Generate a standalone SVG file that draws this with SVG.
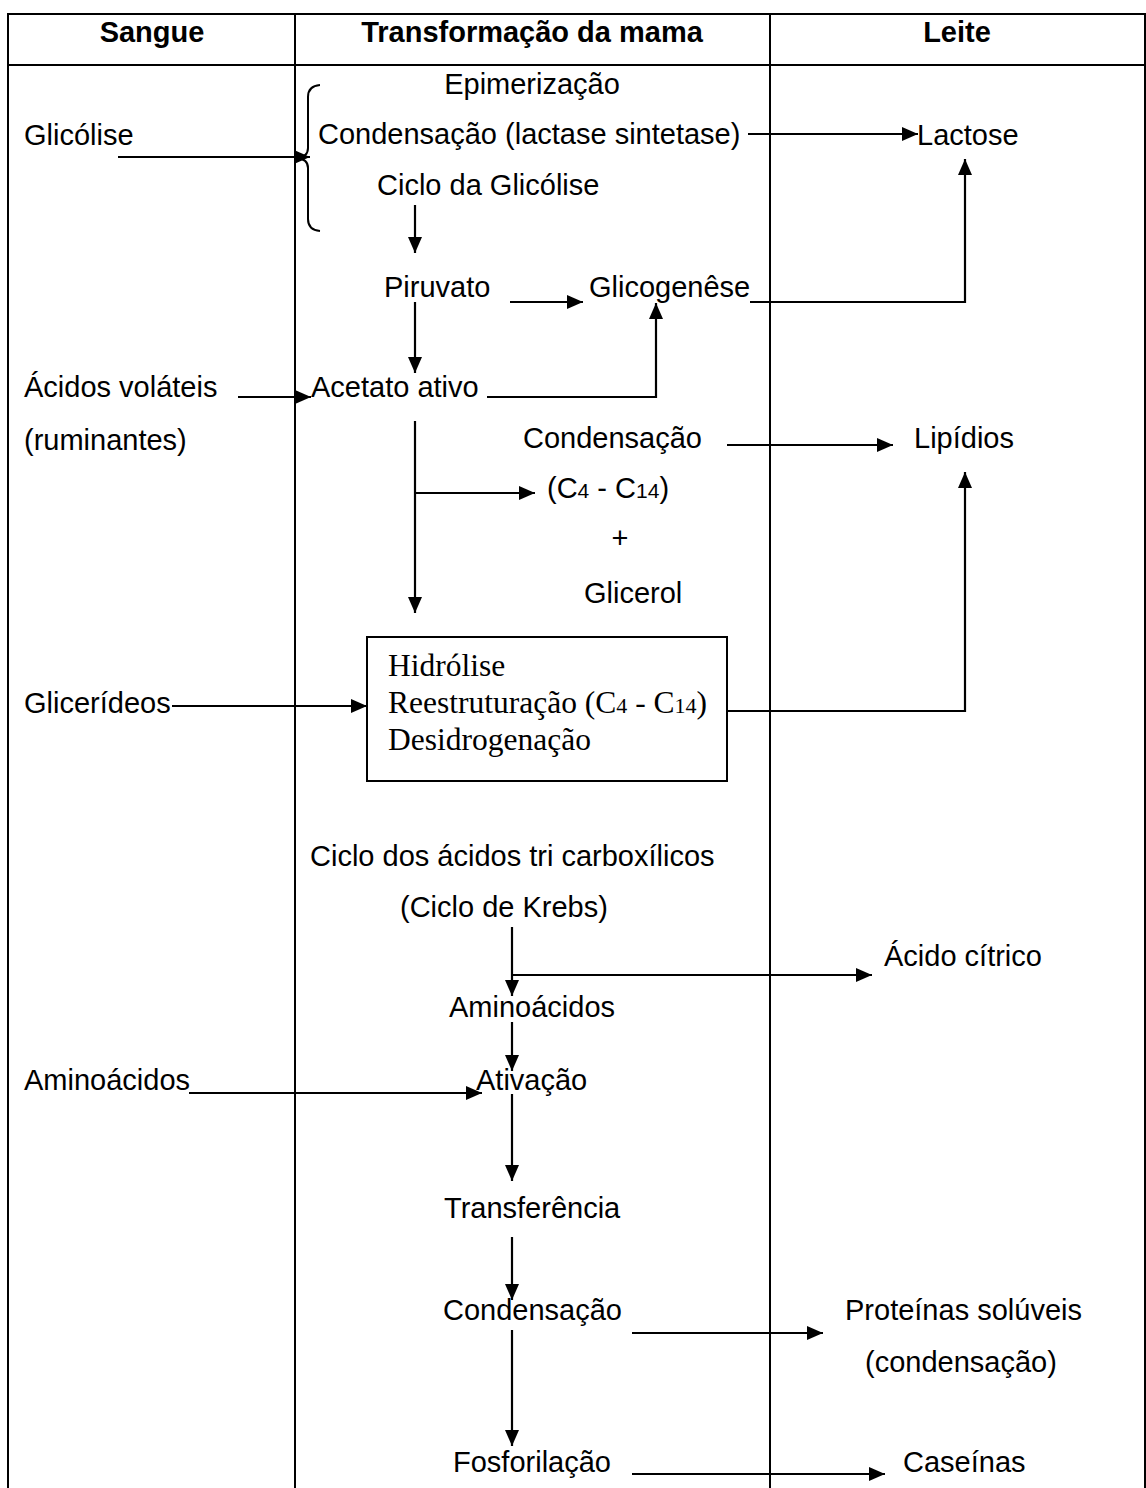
<svg xmlns="http://www.w3.org/2000/svg" width="1146" height="1488" viewBox="0 0 1146 1488">
<defs>
<marker id="ah" viewBox="0 0 16 14" refX="16" refY="7" markerWidth="16" markerHeight="14" markerUnits="userSpaceOnUse" orient="auto">
<path d="M0,0 L16,7 L0,14 z" fill="#000"/>
</marker>
<style>
text{font-family:"Liberation Sans",Arial,sans-serif;font-size:29px;fill:#000}
.h{font-weight:bold;text-anchor:middle}
.m{text-anchor:middle}
.t{font-family:"Liberation Serif","Times New Roman",serif;font-size:31.5px}
.sub{font-size:21px}
.t .sub{font-size:22px}
.tl{stroke:#000;stroke-width:2;fill:none}
.c{stroke:#000;stroke-width:2;fill:none}
.a{stroke:#000;stroke-width:2.2;fill:none;marker-end:url(#ah)}
</style>
</defs>
<rect width="1146" height="1488" fill="#fff"/>
<g id="table">
<path class="tl" d="M8,1488 V14 H1145 V1488 M8,65 H1145 M295,14 V1488 M770,14 V1488"/>
<text class="h" x="152" y="42">Sangue</text>
<text class="h" x="532" y="42">Transformação da mama</text>
<text class="h" x="957" y="42">Leite</text>
</g>
<g id="n-glicolise"><text x="24" y="145">Glicólise</text></g>
<g id="n-brace"><path class="c" d="M320,85 Q308,86 308,97 V148 Q308,157 297,158 Q308,159 308,168 V219 Q308,230 320,231" stroke-width="1.6"/></g>
<g id="n-epim"><text class="m" x="532" y="94">Epimerização</text></g>
<g id="n-cond1"><text x="318" y="144">Condensação (lactase sintetase)</text></g>
<g id="n-ciclog"><text x="377" y="195">Ciclo da Glicólise</text></g>
<g id="n-lactose"><text x="917" y="145">Lactose</text></g>
<g id="n-piruvato"><text x="384" y="297">Piruvato</text></g>
<g id="n-glicogenese"><text x="589" y="297">Glicogenêse</text></g>
<g id="n-acidosvol"><text x="24" y="397">Ácidos voláteis</text><text x="24" y="450">(ruminantes)</text></g>
<g id="n-acetato"><text x="311" y="397">Acetato ativo</text></g>
<g id="n-cond2"><text x="523" y="448">Condensação</text></g>
<g id="n-lipidios"><text x="914" y="448">Lipídios</text></g>
<g id="n-c4c14"><text x="547" y="498">(C<tspan class="sub">4</tspan> - C<tspan class="sub">14</tspan>)</text></g>
<g id="n-plus"><text class="m" x="620" y="548">+</text></g>
<g id="n-glicerol"><text x="584" y="603">Glicerol</text></g>
<g id="n-gliceridios"><text x="24" y="713">Glicerídeos</text></g>
<g id="n-box">
<rect x="367" y="637" width="360" height="144" fill="none" stroke="#000" stroke-width="2"/>
<text class="t" x="388" y="676">Hidrólise</text>
<text class="t" x="388" y="713">Reestruturação (C<tspan class="sub">4</tspan> - C<tspan class="sub">14</tspan>)</text>
<text class="t" x="388" y="750">Desidrogenação</text>
</g>
<g id="n-krebs"><text x="310" y="866">Ciclo dos ácidos tri carboxílicos</text><text x="400" y="917">(Ciclo de Krebs)</text></g>
<g id="n-citrico"><text x="884" y="966">Ácido cítrico</text></g>
<g id="n-amino2"><text x="449" y="1017">Aminoácidos</text></g>
<g id="n-amino1"><text x="24" y="1090">Aminoácidos</text></g>
<g id="n-ativacao"><text x="476" y="1090">Ativação</text></g>
<g id="n-transf"><text x="444" y="1218">Transferência</text></g>
<g id="n-cond3"><text x="443" y="1320">Condensação</text></g>
<g id="n-proteinas"><text x="845" y="1320">Proteínas solúveis</text><text x="865" y="1372">(condensação)</text></g>
<g id="n-fosfo"><text x="453" y="1472">Fosforilação</text></g>
<g id="n-caseinas"><text x="903" y="1472">Caseínas</text></g>
<g id="connectors">
<path class="a" d="M118,157 H310"/>
<path class="a" d="M748,134 H918"/>
<path class="a" d="M415,205 V253"/>
<path class="a" d="M750,302 H965 V159"/>
<path class="a" d="M510,302 H583"/>
<path class="a" d="M415,302 V373"/>
<path class="a" d="M238,397 H311"/>
<path class="a" d="M487,397 H656 V303"/>
<path class="a" d="M415,421 V613"/>
<path class="a" d="M415,493 H535"/>
<path class="a" d="M727,445 H893"/>
<path class="a" d="M172,706 H367"/>
<path class="a" d="M727,711 H965 V472"/>
<path class="a" d="M512,927 V996"/>
<path class="a" d="M512,975 H872"/>
<path class="a" d="M512,1022 V1071"/>
<path class="a" d="M189,1093 H482"/>
<path class="a" d="M512,1094 V1181"/>
<path class="a" d="M512,1237 V1300"/>
<path class="a" d="M632,1333 H823"/>
<path class="a" d="M512,1330 V1446"/>
<path class="a" d="M632,1474 H885"/>
</g>
</svg>
